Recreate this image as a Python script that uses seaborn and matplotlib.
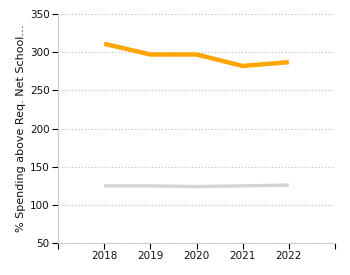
import pandas as pd
import seaborn as sns
import matplotlib.pyplot as plt

years = [2018, 2019, 2020, 2021, 2022]
spending_high = [311, 297, 297, 282, 287]
spending_low = [125, 125, 124, 125, 126]

df = pd.DataFrame({
    'year': years * 2,
    'value': spending_high + spending_low,
    'series': ['high'] * len(years) + ['low'] * len(years),
})

sns.set_style('white')
plt.rcParams['font.family'] = ['DejaVu Sans']

fig = plt.figure(figsize=(3.5, 2.75), dpi=100)
ax = fig.add_axes([0.166, 0.116, 0.791, 0.833])

sns.lineplot(data=df, x='year', y='value', hue='series',
             palette={'high': '#FFA500', 'low': '#D3D3D3'},
             linewidth=3, legend=False, ax=ax)
for line, lw in zip(ax.lines, [3.2, 2.4]):
    line.set_linewidth(lw)
    line.set_solid_capstyle('butt')

ax.set_xlim(2017, 2023)
ax.set_ylim(50, 350)
ax.set_xticks([2017] + years + [2023])
ax.set_xticklabels([''] + [str(y) for y in years] + [''])
ax.set_yticks(range(50, 351, 50))
ax.tick_params(axis='both', labelsize=7.5, length=4, width=0.8, color='black',
               labelcolor='#111111', direction='out', pad=2,
               bottom=True, left=True)

ax.yaxis.grid(True, linestyle=(0, (1, 2)), color='#BBBBBB', linewidth=0.8)
ax.xaxis.grid(False)
ax.set_axisbelow(True)

for side in ['top', 'right']:
    ax.spines[side].set_visible(False)
for side in ['left', 'bottom']:
    ax.spines[side].set_color('#CCCCCC')
    ax.spines[side].set_linewidth(0.8)

ax.set_xlabel('')
ax.set_ylabel('% Spending above Req. Net School\u2026', fontsize=8,
              color='#111111', labelpad=3)

fig.savefig('out.png', dpi=100)
